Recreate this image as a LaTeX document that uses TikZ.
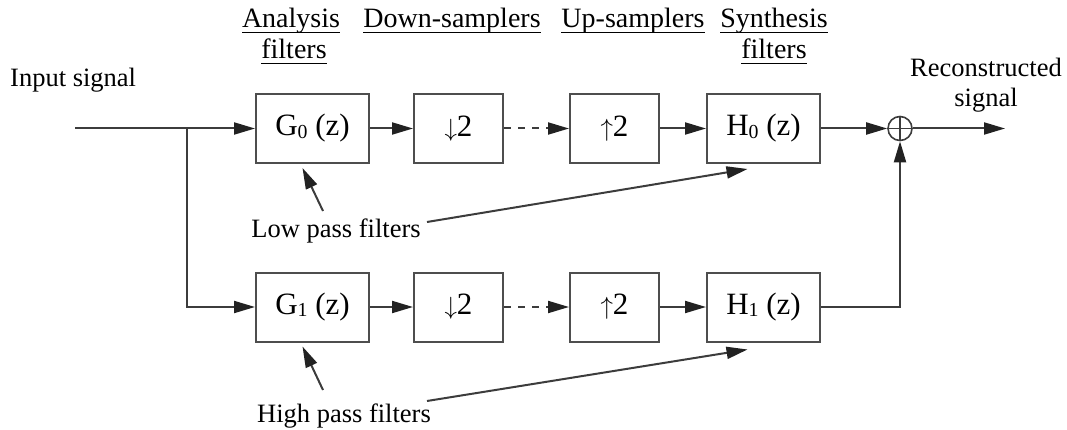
\documentclass[tikz,border=0pt]{standalone}
\usepackage{fontspec}
\setmainfont{Liberation Serif}
\usetikzlibrary{arrows.meta}

\definecolor{linegray}{RGB}{60,60,60}
\definecolor{boxgray}{RGB}{78,78,78}
\definecolor{tipgray}{RGB}{34,34,34}

% underline at a fixed depth below the baseline
\newcommand\ulbar[1]{\setbox0\hbox{#1}\rlap{\raisebox{-5.2pt}{\rule{\wd0}{1.4pt}}}\box0}
% lowered, reduced index digit
\newcommand\idx[1]{\raisebox{-2.5pt}{\scalebox{0.64}{#1}}}

\tikzset{
  blockbox/.style={draw=boxgray, line width=2pt, fill=white, minimum height=69pt,
                   inner sep=0pt, font=\fontsize{31}{36}\selectfont},
  wide/.style={blockbox, minimum width=113pt},
  narrow/.style={blockbox, minimum width=89pt},
  label/.style={font=\fontsize{26.5}{31}\selectfont, inner sep=0pt, anchor=base},
  headlabel/.style={font=\fontsize{28}{31}\selectfont, inner sep=0pt, anchor=base},
  wire/.style={draw=linegray, line width=2pt},
  arr/.style={wire, -{Triangle[length=21pt, width=12pt, color=tipgray]}},
  dashwire/.style={arr, dash pattern=on 7pt off 7pt},
}

\begin{document}
\begin{tikzpicture}[x=1pt, y=-1pt]
\useasboundingbox (0,0) rectangle (1067,430);

% column headings
\node[headlabel] (hA)  at (291,28) {\ulbar{Analysis}};
\node[headlabel] (hA2) at (294,59) {\ulbar{filters}};
\node[headlabel] (hD)  at (452,28) {\ulbar{Down-samplers}};
\node[headlabel] (hU)  at (633,28) {\ulbar{Up-samplers}};
\node[headlabel] (hS)  at (774,28) {\ulbar{Synthesis}};
\node[headlabel] (hS2) at (774,59) {\ulbar{filters}};

% signal labels
\node[label, anchor=base west] (lin) at (10,87) {Input signal};
\node[label] (lrec) at (986,77) {Reconstructed};
\node[label] (lsig) at (986,107) {signal};

% upper branch
\node[wide]   (g0) at (312.5,128.5) {G\idx{0} (z)};
\node[narrow] (d0) at (458.5,128.5) {$\downarrow$2};
\node[narrow] (u0) at (614.5,128.5) {$\uparrow$2};
\node[wide]   (h0) at (763.5,128.5) {H\idx{0} (z)};

% lower branch
\node[wide]   (g1) at (312.5,307) {G\idx{1} (z)};
\node[narrow] (d1) at (458.5,307) {$\downarrow$2};
\node[narrow] (u1) at (614.5,307) {$\uparrow$2};
\node[wide]   (h1) at (763.5,307) {H\idx{1} (z)};

% summing junction
\node[circle, draw=linegray, line width=1.6pt, minimum size=24pt, inner sep=0pt] (sum) at (900,128.5) {};
\draw[wire, line width=1.4pt] (sum.north) -- (sum.south) (sum.west) -- (sum.east);

% filter-type annotations
\node[label] (lp) at (336,238) {Low pass filters};
\node[label] (hp) at (344,422) {High pass filters};

% input, splitting point and output end
\coordinate (in) at (75,128.5);
\coordinate (split) at (187,128.5);
\coordinate (out) at (1005,128.5);

\draw[arr] (in) -- (g0.west);
\draw[arr] (split) |- (g1.west);

\draw[arr] (g0) -- (d0);
\draw[dashwire] (d0) -- (u0);
\draw[arr] (u0) -- (h0);
\draw[arr] (h0) -- (sum);
\draw[arr] (sum) -- (out);

\draw[arr] (g1) -- (d1);
\draw[dashwire] (d1) -- (u1);
\draw[arr] (u1) -- (h1);
\draw[arr] (h1.east) -| (sum.south);

% annotation pointers
\coordinate (lpa) at (323,211);
\coordinate (lpb) at (427,222);
\coordinate (hpa) at (323,390);
\coordinate (hpb) at (427,401);
\draw[arr] (lpa) -- ([xshift=-10pt, yshift=-4pt]g0.south);
\draw[arr] (lpb) -- ([xshift=-16pt, yshift=-5pt]h0.south);
\draw[arr] (hpa) -- ([xshift=-10pt, yshift=-4pt]g1.south);
\draw[arr] (hpb) -- ([xshift=-16pt, yshift=-7pt]h1.south);
\end{tikzpicture}
\end{document}
